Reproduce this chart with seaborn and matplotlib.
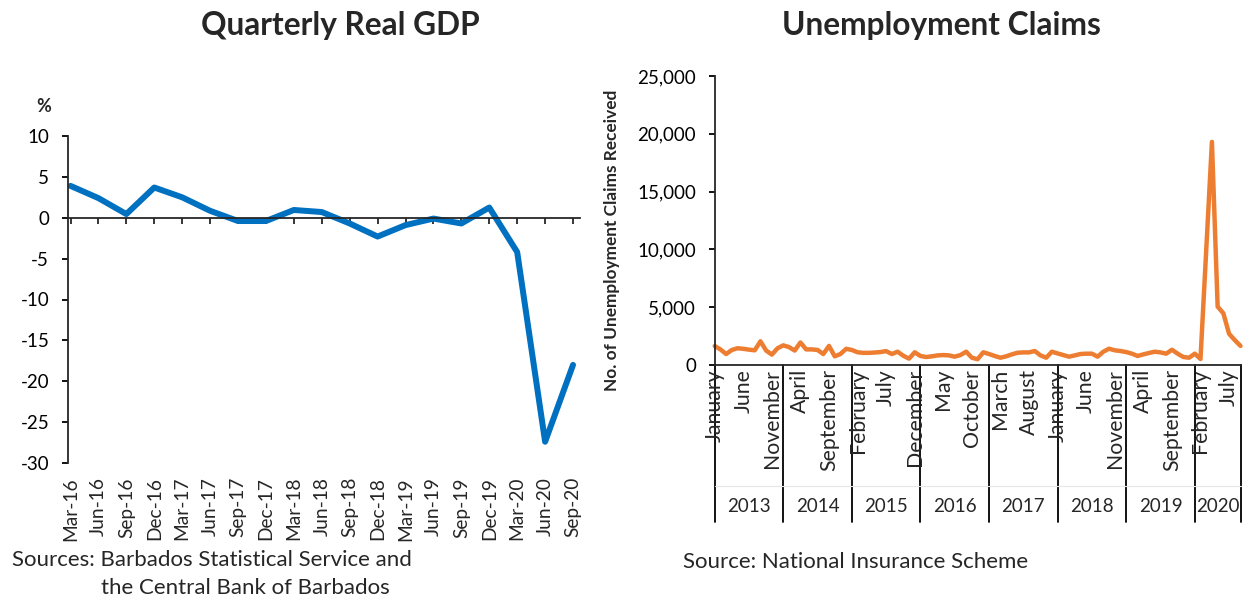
import numpy as np
import pandas as pd
import matplotlib
matplotlib.use("Agg")
import matplotlib.pyplot as plt
import seaborn as sns

# ---------------- data ----------------
quarters = ["Mar-16", "Jun-16", "Sep-16", "Dec-16", "Mar-17", "Jun-17", "Sep-17",
            "Dec-17", "Mar-18", "Jun-18", "Sep-18", "Dec-18", "Mar-19", "Jun-19",
            "Sep-19", "Dec-19", "Mar-20", "Jun-20", "Sep-20"]
gdp_growth = [3.9, 2.4, 0.45, 3.7, 2.5, 0.85, -0.4, -0.4, 0.95, 0.7, -0.7, -2.3,
              -0.9, -0.1, -0.7, 1.25, -4.2, -27.4, -18.0]

years = ["2013", "2014", "2015", "2016", "2017", "2018", "2019", "2020"]
month_names = ["January", "February", "March", "April", "May", "June", "July",
               "August", "September", "October", "November", "December"]
claims_2013 = [1640, 1350, 950, 1300, 1450, 1400, 1330, 1270, 2050, 1250, 900, 1450]
claims_2014 = [1700, 1550, 1250, 1950, 1350, 1350, 1300, 950, 1650, 750, 950, 1400]
claims_2015 = [1300, 1100, 1050, 1050, 1080, 1120, 1200, 950, 1150, 800, 550, 1100]
claims_2016 = [780, 690, 750, 830, 860, 830, 720, 860, 1150, 630, 500, 1100]
claims_2017 = [950, 780, 630, 750, 920, 1060, 1090, 1090, 1210, 830, 630, 1150]
claims_2018 = [1000, 860, 720, 830, 950, 980, 980, 720, 1150, 1410, 1270, 1210]
claims_2019 = [1120, 980, 780, 920, 1040, 1150, 1090, 980, 1320, 980, 690, 630]
claims_2020 = [980, 520, 9900, 19300, 5050, 4470, 2700, 2150, 1650]
claims_by_year = [claims_2013, claims_2014, claims_2015, claims_2016,
                  claims_2017, claims_2018, claims_2019, claims_2020]

claims = [v for yr in claims_by_year for v in yr]
n_months = len(claims)
month_index = np.arange(n_months)

# ---------------- style ----------------
sns.set_style("ticks")
plt.rcParams["font.family"] = ["Lato", "DejaVu Sans"]
plt.rcParams["axes.linewidth"] = 1.3
plt.rcParams["axes.unicode_minus"] = False

W, H = 1248, 600
fig = plt.figure(figsize=(W / 100, H / 100), dpi=100)


def add_axes_px(l, r, t, b):
    return fig.add_axes([l / W, 1 - b / H, (r - l) / W, (b - t) / H])


TICK_FS = 13.5
Q_FS = 13.8
CAT_FS = 15.3
SRC_FS = 16
TITLE_FS = 22.8

# ---------------- left: GDP ----------------
L_l, L_r, L_t, L_b = 68, 580, 136, 463
ax1 = add_axes_px(L_l, L_r, L_t, L_b)
df_gdp = pd.DataFrame({"q": np.arange(len(quarters)), "gdp": gdp_growth})
sns.lineplot(data=df_gdp, x="q", y="gdp", ax=ax1, color="#0070C0", linewidth=4.3,
             solid_joinstyle="round", solid_capstyle="round", clip_on=False)
ax1.set_xlim(-0.09, len(quarters) - 1 + 0.25)
ax1.set_ylim(-30, 10)
ax1.set_yticks(np.arange(-30, 11, 5))
ax1.set_xticks(np.arange(len(quarters)))
ax1.set_xticklabels([])
ax1.spines["top"].set_visible(False)
ax1.spines["right"].set_visible(False)
ax1.spines["bottom"].set_position(("data", 0))
ax1.tick_params(axis="y", direction="out", length=4.5, width=1.3, pad=9,
                labelsize=TICK_FS, colors="black")
ax1.tick_params(axis="x", direction="out", length=4.5, width=1.3)
ax1.set_xlabel("")
ax1.set_ylabel("")
xt1 = ax1.get_xaxis_transform()
for i, q in enumerate(quarters):
    ax1.text(i, (L_b - 477) / (L_b - L_t), q, rotation=90, ha="center", va="top",
             transform=xt1, fontsize=Q_FS)

fig.text(340 / W, 1 - 26 / H, "Quarterly Real GDP", ha="center", va="center",
         fontsize=TITLE_FS, fontweight="bold")
fig.text(44 / W, 1 - 107 / H, "%", ha="center", va="center", fontsize=13,
         fontweight="bold")
fig.text(12 / W, 1 - 560 / H, "Sources: Barbados Statistical Service and",
         ha="left", va="center", fontsize=SRC_FS)
fig.text(101 / W, 1 - 588 / H, "the Central Bank of Barbados",
         ha="left", va="center", fontsize=SRC_FS)

# ---------------- right: claims ----------------
R_l, R_r, R_t, R_b = 714.7, 1240.5, 76, 365
ax2 = add_axes_px(R_l, R_r, R_t, R_b)
df_claims = pd.DataFrame({"m": month_index, "claims": claims})
sns.lineplot(data=df_claims, x="m", y="claims", ax=ax2, color="#ED7D31",
             linewidth=3.2, solid_joinstyle="round", clip_on=False)
ax2.set_xlim(0, n_months - 1)
ax2.set_ylim(0, 25000)
ax2.set_yticks(np.arange(0, 25001, 5000))
ax2.yaxis.set_major_formatter(matplotlib.ticker.FuncFormatter(lambda v, p: f"{int(v):,}"))
ax2.set_xticks([])
ax2.spines["top"].set_visible(False)
ax2.spines["right"].set_visible(False)
ax2.tick_params(axis="y", direction="out", length=4, width=1.3, pad=9.5,
                labelsize=TICK_FS, colors="black")
ax2.set_xlabel("")
ax2.set_ylabel("No. of Unemployment Claims Received", fontsize=12.4,
               fontweight="bold")
hpx = R_b - R_t
wpx = R_r - R_l
ax2.yaxis.set_label_coords((620 - R_l) / wpx, (R_b - 240) / hpx)

xt2 = ax2.get_xaxis_transform()
# month labels every 5 months
for i in range(0, n_months, 5):
    ax2.text(i, (R_b - 369) / hpx, month_names[i % 12], rotation=90, ha="center",
             va="top", transform=xt2, fontsize=CAT_FS)
# year separators and labels
bounds = np.concatenate([[0], np.cumsum([len(y) for y in claims_by_year])])
bounds[-1] = n_months - 1
sep_bottom = (R_b - 522) / hpx
for b in bounds:
    ax2.plot([b, b], [0, sep_bottom], transform=xt2, color="black", lw=1.3,
             clip_on=False)
ax2.plot([bounds[0], bounds[-1]], [(R_b - 486) / hpx] * 2, transform=xt2,
         color="#e6e6e6", lw=0.8, clip_on=False)
for k, yr in enumerate(years):
    ax2.text((bounds[k] + bounds[k + 1]) / 2, (R_b - 506) / hpx, yr, ha="center",
             va="center", transform=xt2, fontsize=TICK_FS)

fig.text(941 / W, 1 - 26 / H, "Unemployment Claims", ha="center", va="center",
         fontsize=TITLE_FS, fontweight="bold")
fig.text(683 / W, 1 - 562 / H, "Source: National Insurance Scheme",
         ha="left", va="center", fontsize=SRC_FS)

fig.savefig("out.png", dpi=100)
